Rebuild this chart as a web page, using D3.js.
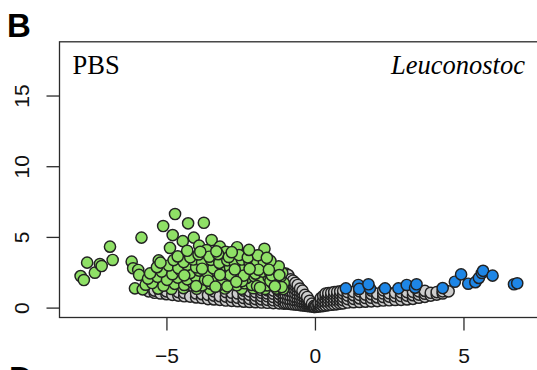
<!DOCTYPE html>
<html>
  <head>
    <meta charset="utf-8">
    <script src="https://d3js.org/d3.v7.min.js"></script>
    <style>
    body {
      margin: 0;
      background: #fff;
    }
    .tick line, .frame {
      stroke: #2b2b2b;
      stroke-width: 1.3;
    }
    .tick text {
      font-family: "Liberation Sans", Arial, sans-serif;
      font-size: 21px;
      fill: #111;
    }
    .pt {
      stroke: #222;
      stroke-width: 1.45;
    }
  </style>
  </head>
  <body>
    <svg id="chart" width="537" height="370"></svg>
    <script>
    // log2 fold change, -log10 p
    var xTicks = [-5, 0, 5];
    var yTicks = [0, 5, 10, 15];
    var panelLabel = "B";
    var leftTitle = "PBS";
    var rightTitle = "Leuconostoc";

    // not significant
    var greyPts = [
      [-5.6,1.15],[-5.4,1.05],[-5.4,1.2],[-5.2,1.0],[-5.0,0.95],[-5.0,1.15],[-4.8,0.9],[-4.6,0.85],[-4.6,1.1],
      [-4.4,0.8],[-4.4,1.05],[-4.2,0.78],[-4.0,0.72],[-4.0,1.0],[-3.8,0.68],[-3.8,0.95],[-3.6,0.6],[-3.6,0.9],
      [-3.4,0.58],[-3.4,0.85],[-3.4,1.15],[-3.2,0.55],[-3.2,0.8],[-3.0,0.5],[-3.0,0.78],[-3.0,1.1],
      [-2.8,0.48],[-2.8,0.75],[-2.8,1.05],[-2.6,0.45],[-2.6,0.7],[-2.6,1.0],[-2.4,0.42],[-2.4,0.68],[-2.4,0.95],[-2.4,1.2],
      [-2.2,0.4],[-2.2,0.62],[-2.2,0.9],[-2.2,1.15],[-2.0,0.38],[-2.0,0.6],[-2.0,0.85],[-2.0,1.1],
      [-1.8,0.36],[-1.8,0.58],[-1.8,0.82],[-1.8,1.05],[-1.8,1.25],[-1.6,0.34],[-1.6,0.55],[-1.6,0.8],[-1.6,1.0],[-1.6,1.22],
      [-1.4,0.32],[-1.4,0.52],[-1.4,0.75],[-1.4,0.98],[-1.4,1.2],[-1.2,0.3],[-1.2,0.5],[-1.2,0.72],[-1.2,0.95],[-1.2,1.18],
      [-1.05,0.28],[-1.05,0.48],[-1.05,0.7],[-1.05,0.92],[-1.05,1.15],
      [-0.98,0.3],[-0.98,0.6],[-0.98,0.9],[-0.98,1.2],[-0.98,1.5],[-0.98,1.8],[-0.98,2.1],[-0.98,2.4],
      [-0.9,0.28],[-0.9,0.55],[-0.9,0.85],[-0.9,1.15],[-0.9,1.45],[-0.9,1.75],[-0.9,2.05],[-0.9,2.3],
      [-0.82,0.26],[-0.82,0.5],[-0.82,0.8],[-0.82,1.1],[-0.82,1.4],[-0.82,1.7],[-0.82,2.0],
      [-0.74,0.24],[-0.74,0.48],[-0.74,0.75],[-0.74,1.05],[-0.74,1.35],[-0.74,1.65],[-0.74,1.9],
      [-0.66,0.22],[-0.66,0.45],[-0.66,0.7],[-0.66,1.0],[-0.66,1.3],[-0.66,1.55],[-0.66,1.75],
      [-0.58,0.2],[-0.58,0.42],[-0.58,0.65],[-0.58,0.9],[-0.58,1.15],[-0.58,1.4],[-0.58,1.6],
      [-0.5,0.18],[-0.5,0.4],[-0.5,0.6],[-0.5,0.85],[-0.5,1.1],[-0.5,1.35],
      [-0.42,0.16],[-0.42,0.35],[-0.42,0.55],[-0.42,0.8],[-0.42,1.0],[-0.42,1.2],
      [-0.34,0.14],[-0.34,0.3],[-0.34,0.5],[-0.34,0.7],[-0.34,0.9],
      [-0.26,0.12],[-0.26,0.26],[-0.26,0.42],[-0.26,0.6],[-0.26,0.75],
      [-0.18,0.1],[-0.18,0.22],[-0.18,0.35],[-0.18,0.48],[-0.1,0.08],[-0.1,0.18],[-0.1,0.28],
      [-0.03,0.05],[-0.03,0.12],[0.0,0.04],
      [0.05,0.06],[0.05,0.14],[0.12,0.08],[0.12,0.2],[0.12,0.32],[0.2,0.1],[0.2,0.25],[0.2,0.45],[0.2,0.68],
      [0.28,0.12],[0.28,0.32],[0.28,0.55],[0.28,0.82],[0.36,0.15],[0.36,0.38],[0.36,0.62],[0.36,0.85],[0.36,1.0],
      [0.45,0.18],[0.45,0.4],[0.45,0.62],[0.45,0.84],[0.45,1.02],[0.55,0.2],[0.55,0.42],[0.55,0.65],[0.55,0.88],[0.55,1.05],
      [0.65,0.22],[0.65,0.45],[0.65,0.68],[0.65,0.9],[0.65,1.1],[0.75,0.25],[0.75,0.48],[0.75,0.7],[0.75,0.92],[0.75,1.12],
      [0.85,0.28],[0.85,0.5],[0.85,0.72],[0.85,0.95],[0.85,1.15],[0.95,0.3],[0.95,0.52],[0.95,0.75],[0.95,1.0],[0.95,1.2],
      [1.1,0.36],[1.1,0.6],[1.1,0.85],[1.1,1.1],[1.3,0.38],[1.3,0.62],[1.3,0.88],[1.3,1.12],
      [1.5,0.4],[1.5,0.65],[1.5,0.9],[1.5,1.15],[1.7,0.42],[1.7,0.68],[1.7,0.92],
      [1.9,0.44],[1.9,0.7],[1.9,0.95],[1.9,1.2],[2.1,0.46],[2.1,0.72],[2.1,0.98],
      [2.3,0.5],[2.3,0.75],[2.3,1.0],[2.3,1.22],[2.5,0.52],[2.5,0.78],[2.5,1.02],
      [2.7,0.54],[2.7,0.8],[2.7,1.05],[2.9,0.55],[2.9,0.82],[2.9,1.08],
      [3.1,0.58],[3.1,0.85],[3.1,1.1],[3.3,0.62],[3.3,0.88],[3.3,1.12],
      [3.5,0.7],[3.5,0.92],[3.5,1.15],[3.7,0.76],[3.7,0.98],[3.7,1.18],
      [3.9,0.85],[3.9,1.05],[4.1,0.92],[4.1,1.1],[4.3,1.0],[4.3,1.15],[4.5,1.15]
    ];

    // down, significant
    var greenPts = [
      [-7.89,2.23],[-7.78,1.95],[-7.67,3.18],[-7.41,2.47],[-7.24,3.08],[-7.18,2.94],[-6.90,4.31],[-6.81,3.37],
      [-6.17,3.25],[-6.12,2.78],[-5.95,2.66],[-5.92,2.31],[-6.06,1.36],[-5.80,1.29],[-5.84,4.95],
      [-4.71,6.62],[-5.11,5.77],[-4.27,5.96],[-3.74,6.00],[-4.79,5.13],[-4.88,4.22],[-4.45,4.70],[-4.08,4.95],
      [-3.48,4.78],[-3.90,4.38],[-2.62,4.27],[-1.70,4.16],[-5.26,3.34],[-4.32,3.84],[-3.65,4.07],[-3.20,4.31],
      [-3.00,3.95],[-1.96,3.60],
      [-5.28,1.34],[-4.83,1.32],[-4.43,1.38],[-3.98,1.33],[-3.54,1.31],[-3.03,1.35],[-2.47,1.33],[-2.08,1.37],
      [-1.68,1.32],[-1.29,1.34],[-1.07,1.31],
      [-5.70,1.62],[-5.48,1.74],[-5.10,1.55],[-4.72,1.68],[-4.40,1.60],[-4.12,1.78],[-3.80,1.57],[-3.52,1.70],
      [-3.22,1.62],[-2.92,1.75],[-2.63,1.58],[-2.36,1.72],[-2.12,1.60],[-1.86,1.76],[-1.61,1.57],[-1.42,1.70],
      [-1.22,1.62],[-1.05,1.74],
      [-5.62,2.05],[-5.30,2.18],[-4.98,1.96],[-4.62,2.12],[-4.30,2.00],[-4.02,2.20],[-3.70,1.98],[-3.40,2.14],
      [-3.12,2.02],[-2.82,2.19],[-2.56,1.95],[-2.30,2.10],[-2.04,2.22],[-1.80,1.98],[-1.56,2.15],[-1.36,2.04],
      [-1.15,2.20],
      [-5.55,2.42],[-5.16,2.55],[-4.80,2.36],[-4.50,2.58],[-4.20,2.45],[-3.90,2.62],[-3.60,2.40],[-3.30,2.56],
      [-3.02,2.38],[-2.75,2.60],[-2.50,2.44],[-2.26,2.58],[-2.00,2.40],[-1.76,2.55],[-1.50,2.42],[-1.30,2.60],
      [-1.10,2.46],
      [-5.32,2.86],[-4.92,2.98],[-4.60,2.80],[-4.30,3.02],[-4.00,2.85],[-3.72,3.00],[-3.42,2.78],[-3.12,2.96],
      [-2.86,2.84],[-2.60,3.04],[-2.36,2.82],[-2.12,2.98],[-1.90,2.80],[-1.66,2.95],[-1.46,2.78],[-1.22,2.92],
      [-5.20,3.18],[-4.76,3.36],[-4.42,3.22],[-4.10,3.40],[-3.80,3.20],[-3.50,3.38],[-3.22,3.16],[-2.95,3.34],
      [-2.70,3.20],[-2.46,3.40],[-2.20,3.18],[-1.96,3.32],[-1.72,3.22],[-1.50,3.30],
      [-4.62,3.62],[-4.20,3.56],[-3.92,3.76],[-3.56,3.60],[-3.26,3.78],[-2.90,3.58],[-2.56,3.72],[-2.26,3.55],
      [-1.92,3.70],[-1.62,3.52],
      [-4.30,4.02],[-3.86,3.95],[-3.32,3.98],[-2.80,3.92],[-2.22,4.08],
      [-2.95,1.50],[-2.45,1.88],[-1.95,1.52],[-1.50,1.88],[-1.12,1.45],[-2.85,2.30],[-2.40,2.26],[-1.90,2.68],
      [-1.45,2.28],[-2.70,2.70],[-2.20,2.74],[-1.55,2.68],[-3.60,1.90],[-3.20,2.32],[-3.80,2.75],[-4.40,2.28],
      [-1.20,2.30],[-1.35,1.50],[-1.85,1.42],[-2.65,1.82],[-3.35,1.48],[-4.00,1.52]
    ];

    // up, significant
    var bluePts = [
      [1.04,1.36],[1.46,1.60],[1.49,1.32],[1.85,1.36],[1.80,1.65],[2.36,1.36],[2.81,1.36],[3.09,1.60],
      [3.37,1.41],[3.42,1.65],[4.30,1.38],[4.71,1.83],[4.92,2.35],[5.16,1.69],[5.40,1.80],[5.52,2.10],
      [5.62,2.45],[5.66,2.60],[5.98,2.26],[6.70,1.65],[6.81,1.72]
    ];

    var svg = d3.select("#chart");

    var x = d3.scaleLinear().domain([-8.6, 7.6]).range([59.5, 540.7]);
    var y = d3.scaleLinear().domain([-0.7, 18.8]).range([317.5, 41.8]);

    function addPoints(data, fill) {
      svg.append("g")
        .selectAll("circle")
        .data(data)
        .enter().append("circle")
          .attr("class", "pt")
          .attr("cx", function (d) { return x(d[0]); })
          .attr("cy", function (d) { return y(d[1]); })
          .attr("r", 5.6)
          .attr("fill", fill);
    }

    addPoints(greyPts, "#cdcdcd");
    addPoints(greenPts, "#8fe066");
    addPoints(bluePts, "#1e86e6");

    // plot frame
    svg.append("rect")
      .attr("class", "frame")
      .attr("x", x.range()[0])
      .attr("y", y.range()[1])
      .attr("width", x.range()[1] - x.range()[0])
      .attr("height", y.range()[0] - y.range()[1])
      .attr("fill", "none");

    var xAxis = svg.append("g")
      .attr("transform", "translate(0," + y.range()[0] + ")")
      .call(d3.axisBottom(x).tickValues(xTicks).tickSize(13).tickPadding(18));

    var yAxis = svg.append("g")
      .attr("transform", "translate(" + x.range()[0] + ",0)")
      .call(d3.axisLeft(y).tickValues(yTicks).tickSize(13));

    svg.selectAll(".domain").remove();
    xAxis.attr("font-size", null).attr("font-family", null);
    yAxis.attr("font-size", null).attr("font-family", null);

    yAxis.selectAll(".tick text")
      .attr("x", null)
      .attr("dy", null)
      .attr("text-anchor", "middle")
      .attr("transform", "translate(-30.5,0) rotate(-90)");

    svg.append("text")
      .attr("x", 7)
      .attr("y", 37)
      .attr("font-family", "Liberation Sans, Arial, sans-serif")
      .attr("font-weight", "bold")
      .attr("font-size", 33)
      .text(panelLabel);

    // top edge of the next panel's letter, cut by the crop
    svg.append("text")
      .attr("x", 9)
      .attr("y", 390)
      .attr("font-family", "Liberation Sans, Arial, sans-serif")
      .attr("font-weight", "bold")
      .attr("font-size", 33)
      .text("D");

    svg.append("text")
      .attr("x", 72.5)
      .attr("y", 74)
      .attr("font-family", "Liberation Serif, Times New Roman, serif")
      .attr("font-size", 26.5)
      .text(leftTitle);

    svg.append("text")
      .attr("x", 525)
      .attr("y", 74)
      .attr("text-anchor", "end")
      .attr("font-family", "Liberation Serif, Times New Roman, serif")
      .attr("font-style", "italic")
      .attr("font-size", 26.5)
      .text(rightTitle);
  </script>
  </body>
</html>
